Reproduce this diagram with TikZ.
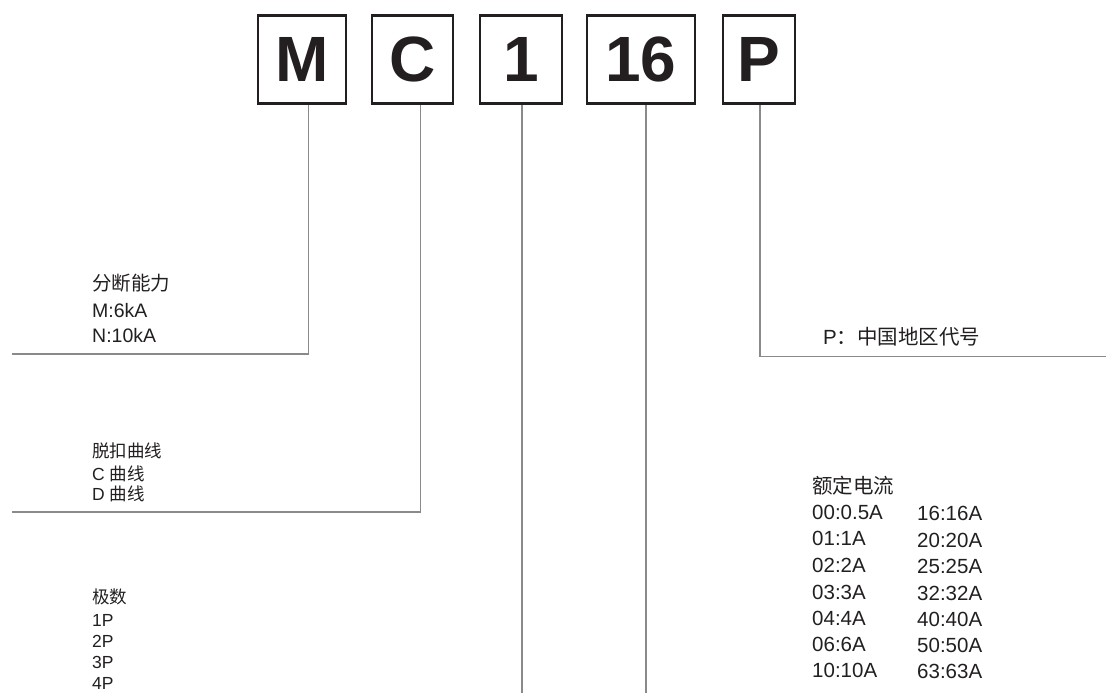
\documentclass[tikz,border=0pt]{standalone}
\usepackage{fontspec}
\setmainfont{Liberation Sans}
\newfontfamily\cjk{Noto Sans CJK SC}
\definecolor{ink}{HTML}{231F20}
\definecolor{lead}{HTML}{8A8A8A}
\begin{document}
\begin{tikzpicture}[x=1pt,y=-1pt,
  codebox/.style={draw=ink,line width=2.6pt,minimum height=88pt,inner sep=0pt,text=ink,
    font=\fontsize{64}{64}\selectfont\bfseries},
  leader/.style={draw=lead,line width=1.8pt},
  txtbig/.style={anchor=base west,inner sep=0pt,text=ink,font=\fontsize{20.5}{24}\selectfont},
  txtmid/.style={anchor=base west,inner sep=0pt,text=ink,font=\fontsize{19.5}{24}\selectfont},
  txtsmall/.style={anchor=base west,inner sep=0pt,text=ink,font=\fontsize{17.5}{21}\selectfont}]
\useasboundingbox (0,0) rectangle (1118,693);

% code boxes
\node[codebox,minimum width=88pt] (bM) at (302,59.5) {M};
\node[codebox,minimum width=81pt] (bC) at (412.5,59.5) {C};
\node[codebox,minimum width=82pt] (b1) at (521,59.5) {1};
\node[codebox,minimum width=108pt] (b16) at (641,59.5) {16};
\node[codebox,minimum width=72pt] (bP) at (759,59.5) {P};

% leader end points
\coordinate (eM) at (12,354);
\coordinate (eC) at (12,512);
\coordinate (e1) at (522,693);
\coordinate (e16) at (646,693);
\coordinate (eP) at (1106,356.5);

% leaders
\draw[leader] ([xshift=6.5pt]bM.south) |- (eM);
\draw[leader] ([xshift=8pt]bC.south) |- (eC);
\draw[leader] (b1.south -| e1) -- (e1);
\draw[leader] (b16.south -| e16) -- (e16);
\draw[leader] ([xshift=1pt]bP.south) |- (eP);

% breaking capacity
\node[txtmid] (m0) at (92,290) {\cjk 分断能力};
\node[txtmid] (m1) at (92,317) {M:6kA};
\node[txtmid] (m2) at (92,342) {N:10kA};

% tripping curve
\node[txtsmall] (c0) at (92,457) {\cjk 脱扣曲线};
\node[txtsmall] (c1) at (92,480) {C {\cjk 曲线}};
\node[txtsmall] (c2) at (92,500.5) {D {\cjk 曲线}};

% poles
\node[txtsmall] (p0) at (92,603) {\cjk 极数};
\node[txtsmall] (p1) at (92,626) {1P};
\node[txtsmall] (p2) at (92,647) {2P};
\node[txtsmall] (p3) at (92,668) {3P};
\node[txtsmall] (p4) at (92,689) {4P};

% region code
\node[txtbig] (r0) at (823,344) {P{\cjk ：中国地区代号}};

% rated current
\node[txtbig] (a0) at (812,493) {\cjk 额定电流};
\node[txtbig] (a1) at (812,519) {00:0.5A};
\node[txtbig] (a2) at (812,545) {01:1A};
\node[txtbig] (a3) at (812,572) {02:2A};
\node[txtbig] (a4) at (812,599) {03:3A};
\node[txtbig] (a5) at (812,625) {04:4A};
\node[txtbig] (a6) at (812,651) {06:6A};
\node[txtbig] (a7) at (812,677) {10:10A};
\node[txtbig] (b1r) at (917,520.5) {16:16A};
\node[txtbig] (b2r) at (917,547) {20:20A};
\node[txtbig] (b3r) at (917,573.5) {25:25A};
\node[txtbig] (b4r) at (917,600) {32:32A};
\node[txtbig] (b5r) at (917,626.5) {40:40A};
\node[txtbig] (b6r) at (917,652.5) {50:50A};
\node[txtbig] (b7r) at (917,678.5) {63:63A};
\end{tikzpicture}
\end{document}
